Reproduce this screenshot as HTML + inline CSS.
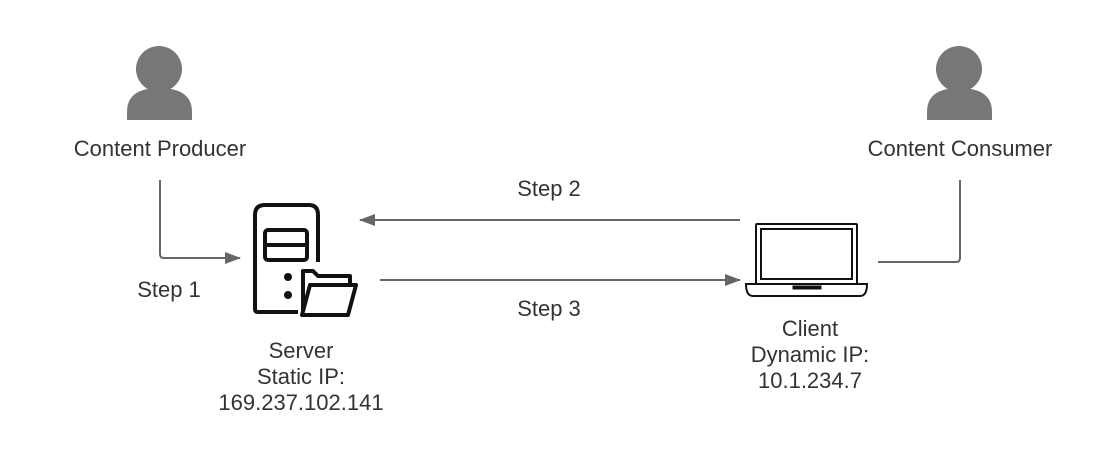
<!DOCTYPE html>
<html><head><style>
body{margin:0;background:#fff;}
svg{display:block;font-family:"Liberation Sans",sans-serif;}
</style></head><body>
<svg width="1120" height="463" viewBox="0 0 1120 463">
<defs><marker id="a" markerWidth="16" markerHeight="12" refX="15" refY="6" orient="auto" markerUnits="userSpaceOnUse"><path d="M0,0 L16,6 L0,12z" fill="#666"/></marker></defs>
<g fill="#777">
<circle cx="159" cy="69" r="23"/>
<path d="M127,120 L127,112 Q127,88 159,88 Q192,88 192,112 L192,120Z"/>
<circle cx="959" cy="69" r="23"/>
<path d="M927,120 L927,112 Q927,88 959,88 Q992,88 992,112 L992,120Z"/>
</g>
<g font-size="22" fill="#333" text-anchor="middle">
<text x="160" y="156">Content Producer</text>
<text x="960" y="156">Content Consumer</text>
<text x="549" y="196">Step 2</text>
<text x="549" y="316">Step 3</text>
<text x="169" y="297">Step 1</text>
<text x="301" y="358">Server</text>
<text x="301" y="384">Static IP:</text>
<text x="301" y="410">169.237.102.141</text>
<text x="810" y="336">Client</text>
<text x="810" y="362">Dynamic IP:</text>
<text x="810" y="388">10.1.234.7</text>
</g>
<g stroke="#666" stroke-width="2" fill="none">
<path d="M160,180 L160,254 Q160,258 164,258 L240,258" marker-end="url(#a)"/>
<path d="M740,220 L360,220" marker-end="url(#a)"/>
<path d="M380,280 L740,280" marker-end="url(#a)"/>
<path d="M960,180 L960,258 Q960,262 956,262 L878,262"/>
</g>
<g stroke="#111" stroke-width="4" fill="none" stroke-linejoin="round">
<path d="M298,312 L258,312 Q255,312 255,309 L255,215 Q255,205 265,205 L309,205 Q318,205 318,215 L318,262"/>
<rect x="265" y="230" width="42" height="30" rx="3"/>
<line x1="265" y1="245" x2="307" y2="245"/>
<path d="M303,312 L303,271 L313,271 L318,276 L350,276 L350,284"/>
<path d="M302,315 L310,285 L356,285 L348,315 Z"/>
</g>
<circle cx="288" cy="277" r="4" fill="#111"/>
<circle cx="288" cy="295" r="4" fill="#111"/>
<g stroke="#111" fill="none">
<rect x="756" y="224" width="101" height="60" rx="1" stroke-width="2"/>
<rect x="761" y="229" width="91" height="50" stroke-width="2"/>
<path d="M746,284 L867,284 Q867,296 860,296 L753,296 Q746,296 746,284Z" stroke-width="2"/>
<rect x="793" y="286" width="28" height="3" fill="#111" stroke-width="1"/>
</g>
</svg>
</body></html>
